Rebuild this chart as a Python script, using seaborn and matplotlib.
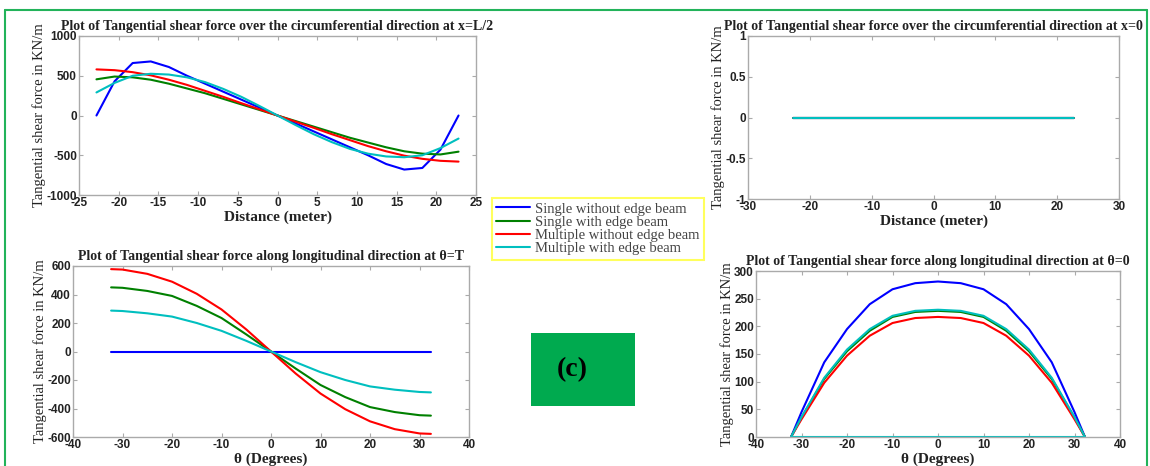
import matplotlib
matplotlib.use("Agg")
import matplotlib.pyplot as plt
import seaborn as sns
import pandas as pd
from matplotlib.patches import Rectangle
from matplotlib.lines import Line2D

# ---------------- data ----------------
series_names = ["Single without edge beam", "Single with edge beam",
                "Multiple without edge beam", "Multiple with edge beam"]
series_colors = ["#0000ff", "#008000", "#ff0000", "#00bfbf"]

distance = [-22.8, -20.52, -18.24, -15.96, -13.68, -11.4, -9.12, -6.84, -4.56, -2.28, 0.0,
            2.28, 4.56, 6.84, 9.12, 11.4, 13.68, 15.96, 18.24, 20.52, 22.8]
tl_single_no = [0, 430, 660, 680, 610, 500, 400, 300, 200, 100, 0,
                 -100, -200, -300, -400, -500, -610, -680, -660, -430, 0]
tl_single_edge = [455, 490, 480, 450, 400, 340, 280, 210, 140, 70, 0,
                  -70, -140, -210, -280, -340, -400, -450, -480, -490, -455]
tl_multi_no = [580, 570, 545, 505, 450, 385, 310, 235, 155, 78, 0,
               -78, -155, -235, -310, -385, -450, -505, -545, -570, -580]
tl_multi_edge = [290, 410, 500, 525, 515, 480, 420, 335, 235, 120, 0,
                 -120, -235, -335, -420, -480, -515, -525, -500, -410, -290]

tr_values = [0] * 21  # all series are zero at x=0

theta = [-32.3, -30, -25, -20, -15, -10, -5, 0, 5, 10, 15, 20, 25, 30, 32.3]
bl_single_no = [0, 0, 0, 0, 0, 0, 0, 0, 0, 0, 0, 0, 0, 0, 0]
bl_single_edge = [450, 447, 425, 390, 320, 235, 120, 0, -120, -235, -320, -390, -425, -447, -450]
bl_multi_no = [578, 575, 545, 490, 405, 295, 155, 0, -155, -295, -405, -490, -545, -575, -578]
bl_multi_edge = [287, 284, 268, 245, 200, 145, 75, 0, -75, -145, -200, -245, -268, -284, -287]

br_single_no = [0, 45, 135, 195, 240, 267, 278, 281, 278, 267, 240, 195, 135, 45, 0]
br_single_edge = [0, 35, 105, 155, 192, 217, 226, 228, 226, 217, 192, 155, 105, 35, 0]
br_multi_no = [0, 32, 98, 147, 183, 206, 215, 217, 215, 206, 183, 147, 98, 32, 0]
br_multi_edge = [0, 36, 107, 158, 195, 219, 228, 230, 228, 219, 195, 158, 107, 36, 0]
br_base = [0] * 15

titles = ["Plot of Tangential shear force over the circumferential direction at x=L/2",
          "Plot of Tangential shear force over the circumferential direction at x=0",
          "Plot of Tangential shear force along longitudinal direction at \u03b8=T",
          "Plot of Tangential shear force along longitudinal direction at \u03b8=0"]
ylabel_text = "Tangential shear force in KN/m"
xlabels = ["Distance (meter)", "Distance (meter)", "\u03b8 (Degrees)", "\u03b8 (Degrees)"]

# ---------------- style ----------------
sns.set_theme(style="white")
plt.rcParams["font.family"] = ["Liberation Serif", "DejaVu Serif"]
plt.rcParams["xtick.direction"] = "in"
plt.rcParams["ytick.direction"] = "in"

W, H = 1150, 466
fig = plt.figure(figsize=(W / 100, H / 100), dpi=100)
fig.patch.set_facecolor("white")


def add_ax(left, right, top, bottom):
    return fig.add_axes([left / W, 1 - bottom / H, (right - left) / W, (bottom - top) / H])


def make_long(x, ys):
    frames = []
    for name, y in zip(series_names, ys):
        frames.append(pd.DataFrame({"x": x, "y": y, "series": name}))
    return pd.concat(frames, ignore_index=True)


def style_ax(ax, title, xlabel, xlim, ylim, xticks, yticks):
    ax.set_xlim(*xlim)
    ax.set_ylim(*ylim)
    ax.set_xticks(xticks)
    ax.set_yticks(yticks)
    ax.set_xticklabels([f"{t:g}" for t in xticks])
    ax.set_yticklabels([f"{t:g}" for t in yticks])
    for lab in ax.get_xticklabels() + ax.get_yticklabels():
        lab.set_family(["Liberation Sans", "DejaVu Sans"])
        lab.set_fontweight("bold")
        lab.set_fontsize(8.5)
        lab.set_color("#222222")
    ax.tick_params(axis="both", which="both", direction="in", length=3, width=0.8,
                   color="#aaaaaa", top=True, right=True, bottom=True, left=True, pad=1.5)
    for sp in ax.spines.values():
        sp.set_color("#aaaaaa")
        sp.set_linewidth(1.0)
        sp.set_visible(True)
    ax.set_title(title, fontsize=10, fontweight="bold", color="#222222", pad=4)
    ax.set_xlabel(xlabel, fontsize=11, fontweight="bold", color="#222222", labelpad=1)
    ax.set_ylabel(ylabel_text, fontsize=10.5, color="#222222", labelpad=0)
    if ax.get_legend() is not None:
        ax.get_legend().remove()


palette = dict(zip(series_names, series_colors))

# top-left
ax1 = add_ax(79, 476, 36, 195)
sns.lineplot(data=make_long(distance, [tl_single_no, tl_single_edge, tl_multi_no, tl_multi_edge]),
             x="x", y="y", hue="series", palette=palette, linewidth=1.5, ax=ax1,
             legend=False, sort=False, estimator=None)
style_ax(ax1, titles[0], xlabels[0], (-25, 25), (-1000, 1000),
         [-25, -20, -15, -10, -5, 0, 5, 10, 15, 20, 25], [-1000, -500, 0, 500, 1000])

# top-right
ax2 = add_ax(748, 1119, 36, 199)
sns.lineplot(data=make_long(distance, [tr_values] * 4),
             x="x", y="y", hue="series", palette=palette, linewidth=1.5, ax=ax2,
             legend=False, sort=False, estimator=None)
style_ax(ax2, titles[1], xlabels[1], (-30, 30), (-1, 1),
         [-30, -20, -10, 0, 10, 20, 30], [-1, -0.5, 0, 0.5, 1])

# bottom-left
ax3 = add_ax(73, 469, 266, 437)
sns.lineplot(data=make_long(theta, [bl_single_no, bl_single_edge, bl_multi_no, bl_multi_edge]),
             x="x", y="y", hue="series", palette=palette, linewidth=1.5, ax=ax3,
             legend=False, sort=False, estimator=None)
style_ax(ax3, titles[2], xlabels[2], (-40, 40), (-600, 600),
         [-40, -30, -20, -10, 0, 10, 20, 30, 40], [-600, -400, -200, 0, 200, 400, 600])

# bottom-right
ax4 = add_ax(756, 1120, 271, 437)
sns.lineplot(data=make_long(theta, [br_single_no, br_single_edge, br_multi_no, br_multi_edge]),
             x="x", y="y", hue="series", palette=palette, linewidth=1.5, ax=ax4,
             legend=False, sort=False, estimator=None)
sns.lineplot(x=theta, y=br_base, color=series_colors[3], linewidth=1.5, ax=ax4)
style_ax(ax4, titles[3], xlabels[3], (-40, 40), (0, 300),
         [-40, -30, -20, -10, 0, 10, 20, 30, 40], [0, 50, 100, 150, 200, 250, 300])

# legend
handles = [Line2D([0], [0], color=c, lw=1.5) for c in series_colors]
leg = fig.legend(handles, series_names, loc="upper left",
                 bbox_to_anchor=(492 / W, 1 - 198 / H), frameon=True, fontsize=10.5,
                 handlelength=2.3, handletextpad=0.35, borderpad=0.3, labelspacing=0.0,
                 fancybox=False, borderaxespad=0)
leg.get_frame().set_edgecolor("#ffff33")
leg.get_frame().set_linewidth(1.5)
for t in leg.get_texts():
    t.set_color("#444444")

# (c) box
fig.patches.append(Rectangle((531 / W, 1 - 406 / H), 104 / W, 73 / H,
                             transform=fig.transFigure, facecolor="#00aa4f",
                             edgecolor="none", zorder=5))
fig.text(572 / W, 1 - 370 / H, "(c)", fontsize=20, fontweight="bold", color="black",
         ha="center", va="center", zorder=6)

# green outer border (open at the bottom)
border_color = "#22b35a"
fig.add_artist(Line2D([5 / W, 5 / W], [0, 1 - 10 / H], transform=fig.transFigure,
                      color=border_color, lw=1.5))
fig.add_artist(Line2D([1147 / W, 1147 / W], [0, 1 - 10 / H], transform=fig.transFigure,
                      color=border_color, lw=1.5))
fig.add_artist(Line2D([5 / W, 1147 / W], [1 - 10 / H, 1 - 10 / H], transform=fig.transFigure,
                      color=border_color, lw=1.5))

fig.savefig("out.png", dpi=100)
